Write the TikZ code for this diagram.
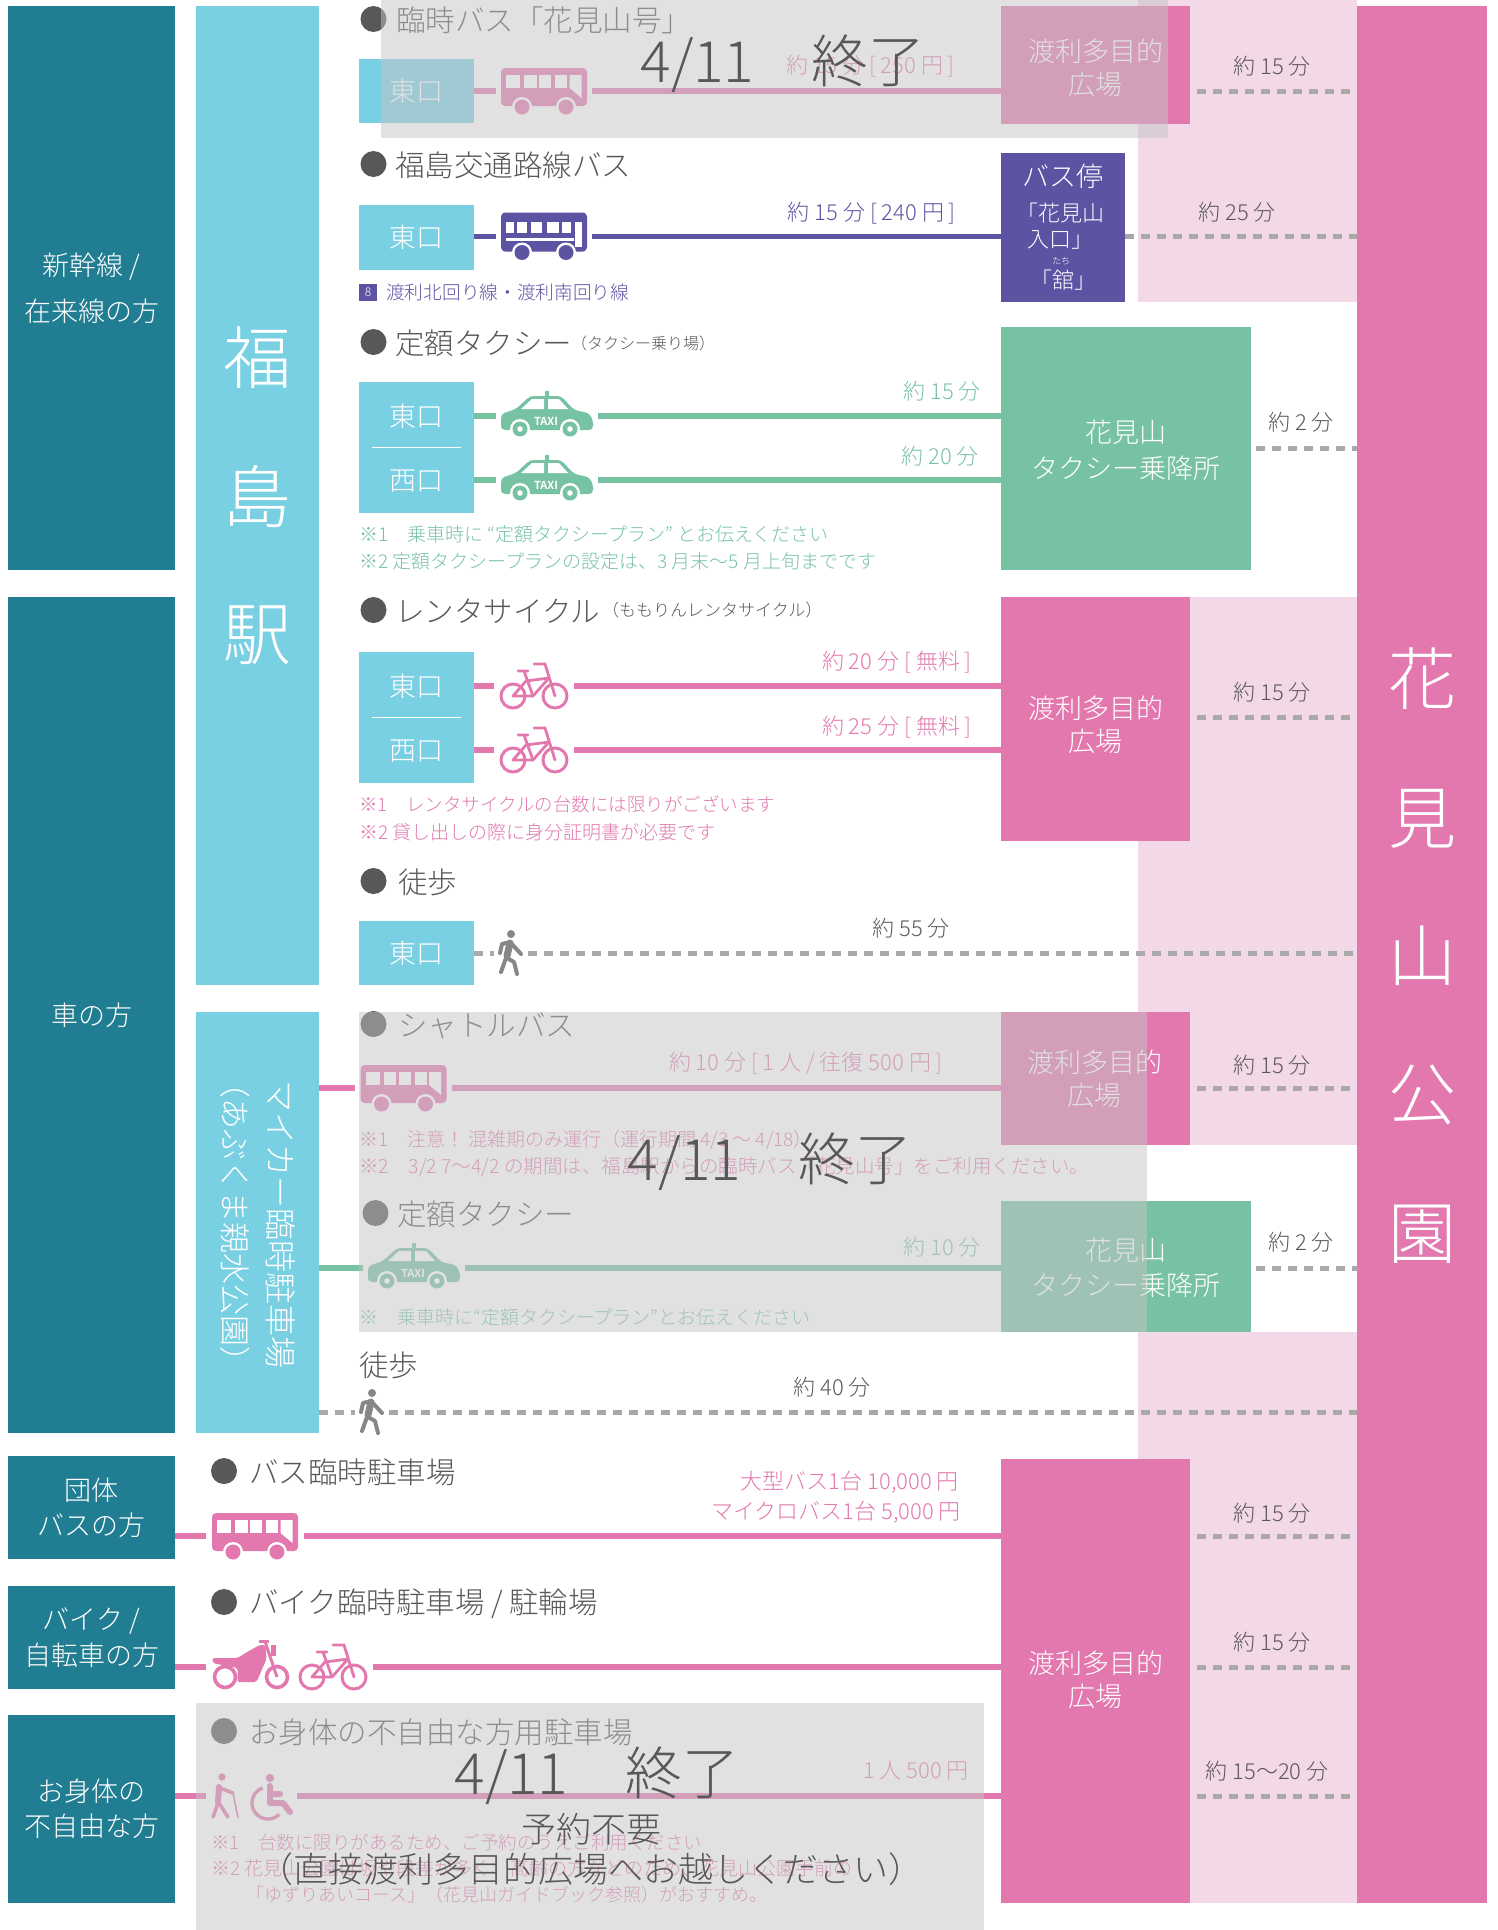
\documentclass[tikz,border=0pt]{standalone}
\usepackage{fontspec}
\setmainfont{Noto Sans CJK JP}[UprightFont=* Light]
\usetikzlibrary{positioning}
\definecolor{tealblock}{HTML}{217D92}
\definecolor{skyblock}{HTML}{7AD0E3}
\definecolor{pinkblock}{HTML}{E278AE}
\definecolor{pinkband}{HTML}{F3D8E8}
\definecolor{greenblock}{HTML}{78C2A4}
\definecolor{purpleblock}{HTML}{5D53A3}
\definecolor{inktext}{HTML}{595757}
\definecolor{dashgray}{HTML}{A9A9AA}
\definecolor{covergray}{HTML}{C4C4C4}
\newcommand{\fsz}[1]{\fontsize{#1}{#1}\selectfont}
\tikzset{
	blockbox/.style={inner sep=0pt,outer sep=0pt,text=white,align=center},
	blocktext/.style={inner sep=0pt,text=white,align=center,font=\fsz{27}},
	bigchar/.style={inner sep=0pt,text=white,font=\fsz{68}},
	tealbox/.style={blockbox,fill=tealblock,font=\fsz{27}},
	skybox/.style={blockbox,fill=skyblock,font=\fsz{27}},
	pinkbox/.style={blockbox,fill=pinkblock},
	greenbox/.style={blockbox,fill=greenblock},
	purplebox/.style={blockbox,fill=purpleblock},
	covered/.style={inner sep=0pt,outer sep=0pt,fill=covergray,fill opacity=.5},
	heading/.style={inner sep=0pt,anchor=west,yshift=-1.5pt,text=inktext,font=\fsz{29.5}},
	subheading/.style={inner sep=0pt,anchor=west,text=inktext,font=\fsz{#1}},
	dotmark/.style={circle,inner sep=0pt,minimum size=26pt,fill=inktext},
	timelabel/.style={inner sep=0pt,yshift=-1pt,text=#1,font=\fsz{22}},
	notelabel/.style={inner sep=0pt,anchor=west,text=#1,font=\fsz{19}},
	bigtext/.style={inner sep=0pt,text=inktext,align=center},
	iconspot/.style={inner sep=0pt,outer sep=0pt,minimum height=1pt},
	routeline/.style={line width=5.5pt,draw=#1},
	walkline/.style={line width=5pt,draw=dashgray,dash pattern=on 9pt off 7pt},
	pics/busicon/.style={code={
		\fill[#1,rounded corners=4pt] (-43,-23) rectangle (43,15);
		\foreach \wx/\wy in {-37.6/-24,-20/-7.4,-4.7/7.4,11/23.3}
			\fill[white] (\wx,-16) rectangle (\wy,-3);
		\fill[white] (25.5,-16) -- (37.6,-16) -- (37.6,7) -- (25.5,-3) -- cycle;
		\foreach \wx in {-22,22} {
			\fill[white] (\wx,16) circle (10pt);
			\fill[#1] (\wx,16) circle (7.5pt);
		}
	}},
	pics/routebusicon/.style={code={
		\fill[#1,rounded corners=4pt] (-43,-24) rectangle (43,15);
		\foreach \wx/\wy in {-38/-30,-27/-17,-13/-2,3/15,18/27}
			\fill[white] (\wx,-15) rectangle (\wy,-4);
		\fill[white] (-38,1.5) rectangle (30,4);
		\fill[white] (31,-15) rectangle (38,10);
		\foreach \wx in {-22,22} {
			\fill[white] (\wx,16) circle (10pt);
			\fill[#1] (\wx,16) circle (7.5pt);
		}
	}},
	pics/taxiicon/.style={code={
		\fill[#1] (-2,-25) rectangle (2,-19);
		\fill[#1,rounded corners=4pt] (-46,14) -- (-46,-2) -- (-31,-7) -- (-17,-20) -- (14,-20) -- (27,-6) -- (42,-3) -- (46,4) -- (46,14) -- cycle;
		\fill[white] (-26,-7) -- (-15,-17) -- (-3,-17) -- (-3,-7) -- cycle;
		\fill[white] (1,-17) -- (12,-17) -- (21,-7) -- (1,-7) -- cycle;
		\foreach \wx in {-27,23} {
			\fill[white] (\wx,13) circle (10pt);
			\fill[#1] (\wx,13) circle (7.5pt);
			\fill[white] (\wx,13) circle (2.8pt);
		}
		\node[inner sep=0pt,text=white,font=\fsz{11}\bfseries] at (-1,5) {TAXI};
	}},
	pics/bikeicon/.style={code={
		\draw[#1,line width=3pt] (-21,10) circle (12pt) (21,10) circle (12pt);
		\draw[#1,line width=2.8pt,line join=round] (-21,10) -- (-1,10) -- (15,-8) -- (-8,-5) -- cycle;
		\draw[#1,line width=2.8pt,line cap=round] (-10,-15) -- (-1,10) (0,-22) -- (11,-22) -- (21,10) (-16,-15) -- (-6,-15);
	}},
	pics/motoicon/.style={code={
		\draw[#1,line width=3.6pt] (-26.5,10) circle (10.5pt) (25.5,10) circle (10.5pt);
		\fill[#1,rounded corners=2pt] (-39,-9) -- (-14,-9) -- (-6,-14) -- (8,-22) -- (14,-22) -- (15,-8) -- (5,15) -- (-14,15) -- (-14,1) -- (-39,-4) -- cycle;
		\fill[#1] (7,-27) rectangle (17,-24);
		\fill[#1] (19,-22) rectangle (24,-11);
		\draw[#1,line width=3pt] (14,-24) -- (25.5,10);
	}},
	pics/walkicon/.style={code={
		\fill[#1] (0,-19) circle (4pt);
		\draw[#1,line width=7pt,line cap=round] (-1,-10) -- (-4,3);
		\draw[#1,line width=4pt,line cap=round,line join=round] (-11,0) -- (-9,-9) -- (-1,-11) -- (10,1) (-5,5) -- (-10,19) (-4,5) -- (3,9) -- (6,21);
	}},
	pics/caneicon/.style={code={
		\fill[#1] (-2,-19) circle (3.7pt);
		\draw[#1,line width=6pt,line cap=round] (-5,-9) -- (-6,6);
		\draw[#1,line width=3.6pt,line cap=round] (-6,7) -- (-11,21) (-5,7) -- (4,21) (-4,-8) -- (9,-3);
		\draw[#1,line width=1.6pt] (9,-3) -- (14,22);
	}},
	pics/chairicon/.style={code={
		\fill[#1] (-2,-18) circle (4.2pt);
		\draw[#1,line width=6pt,line cap=round,line join=round] (-2,-10) -- (-2,7) -- (11,7) -- (18,16) (-2,-2) -- (8,-2);
		\draw[#1,line width=3.4pt] (-9.5,-8) arc[start angle=110,end angle=315,radius=16pt];
	}}
}
\begin{document}
\begin{tikzpicture}[x=1pt,y=-1pt]
	\useasboundingbox (0,0) rectangle (1497,1930);
	% bands behind the destination column
	\fill[pinkband] (1138,0) rectangle (1357,302);
	\fill[pinkband] (1138,597) rectangle (1357,1145);
	\fill[pinkband] (1138,1332) rectangle (1357,1903);
	% visitor groups
	\node[tealbox,minimum width=167pt,minimum height=564pt] (train) at (91.5,288) {新幹線 /\\[18pt]在来線の方};
	\node[tealbox,minimum width=167pt,minimum height=836pt] (car) at (91.5,1015) {車の方};
	\node[tealbox,minimum width=167pt,minimum height=103pt] (coach) at (91.5,1507.5) {団体\\[8pt]バスの方};
	\node[tealbox,minimum width=167pt,minimum height=103pt] (cycle) at (91.5,1637.5) {バイク /\\[8pt]自転車の方};
	\node[tealbox,minimum width=167pt,minimum height=188pt] (care) at (91.5,1809) {お身体の\\[8pt]不自由な方};
	% stations and parks
	\node[skybox,minimum width=123pt,minimum height=979pt] (station) at (257.5,495.5) {};
	\node[bigchar] (fuku) at (257.5,358) {福};
	\node[bigchar] (shima) at (257.5,497) {島};
	\node[bigchar] (eki) at (257.5,635) {駅};
	\node[skybox,minimum width=123pt,minimum height=421pt] (parking) at (257.5,1222.5) {};
	\node[text=white,font=\fsz{32},inner sep=0pt,rotate=-90] (parkingname) at (281,1224) {マイカー臨時駐車場};
	\node[text=white,font=\fsz{31},inner sep=0pt,rotate=-90] (parkingsub) at (235,1222) {（あぶくま親水公園）};
	% exits
	\node[skybox,minimum width=115pt,minimum height=64pt] (eastA) at (416.5,91) {東口};
	\node[skybox,minimum width=115pt,minimum height=65pt] (eastB) at (416.5,237) {東口};
	\node[skybox,minimum width=115pt,minimum height=131pt] (taxigate) at (416.5,447.5) {};
	\node[blocktext] (eastC) at (416.5,416) {東口};
	\node[blocktext] (westC) at (416.5,481) {西口};
	\draw[white,line width=.8pt] (372,447.5) -- (461,447.5);
	\node[skybox,minimum width=115pt,minimum height=131pt] (bikegate) at (416.5,717.5) {};
	\node[blocktext] (eastD) at (416.5,686) {東口};
	\node[blocktext] (westD) at (416.5,751) {西口};
	\draw[white,line width=.8pt] (372,717.5) -- (461,717.5);
	\node[skybox,minimum width=115pt,minimum height=64pt] (eastE) at (416.5,953) {東口};
	% destinations
	\node[pinkbox,minimum width=189pt,minimum height=118pt] (plazaA) at (1095.5,65) {};
	\node[blocktext] (plazaAname) at (1095.5,68) {渡利多目的\\[6pt]広場};
	\node[purplebox,minimum width=124pt,minimum height=149pt] (stop) at (1063,227.5) {};
	\node[text=white,font=\fsz{27},inner sep=0pt] (stopname) at (1063,176) {バス停};
	\node[text=white,font=\fsz{22},inner sep=0pt,align=center] (stopA) at (1060,226) {「花見山\\[4pt]入口」};
	\node[text=white,font=\fsz{9},inner sep=0pt] (stopruby) at (1061,261) {たち};
	\node[text=white,font=\fsz{22},inner sep=0pt] (stopB) at (1063,280) {「舘」};
	\node[greenbox,minimum width=250pt,minimum height=243pt] (taxistand) at (1126,448.5) {};
	\node[blocktext] (taxistandname) at (1126,450) {花見山\\[9pt]タクシー乗降所};
	\node[pinkbox,minimum width=189pt,minimum height=244pt] (plazaB) at (1095.5,719) {};
	\node[blocktext] (plazaBname) at (1095.5,725) {渡利多目的\\[6pt]広場};
	\node[pinkbox,minimum width=189pt,minimum height=133pt] (plazaC) at (1095.5,1078.5) {};
	\node[blocktext] (plazaCname) at (1094.5,1078.5) {渡利多目的\\[6pt]広場};
	\node[greenbox,minimum width=250pt,minimum height=131pt] (taxistandB) at (1126,1266.5) {};
	\node[blocktext] (taxistandBname) at (1126,1268) {花見山\\[8pt]タクシー乗降所};
	\node[pinkbox,minimum width=189pt,minimum height=444pt] (plazaD) at (1095.5,1681) {};
	\node[blocktext] (plazaDname) at (1095.5,1680) {渡利多目的\\[6pt]広場};
	% icon places on the lines
	\node[iconspot,minimum width=96pt] (busA) at (544,91) {};
	\node[iconspot,minimum width=96pt] (busB) at (544,236.5) {};
	\node[iconspot,minimum width=102pt] (taxiA) at (547,416) {};
	\node[iconspot,minimum width=102pt] (taxiB) at (547,480) {};
	\node[iconspot,minimum width=80pt] (bikeA) at (534,686) {};
	\node[iconspot,minimum width=80pt] (bikeB) at (534,750) {};
	\node[iconspot,minimum width=34pt] (walkA) at (511,953) {};
	\node[iconspot,minimum width=97pt] (shuttle) at (403.5,1088) {};
	\node[iconspot,minimum width=102pt] (taxiC) at (414,1268) {};
	\node[iconspot,minimum width=34pt] (walkB) at (372,1412) {};
	\node[iconspot,minimum width=98pt] (busC) at (255,1536) {};
	\node[iconspot,minimum width=91pt] (motoA) at (251.5,1667) {};
	\node[iconspot,minimum width=80pt] (bikeC) at (333,1667) {};
	\node[iconspot,minimum width=36pt] (caneA) at (224,1796) {};
	\node[iconspot,minimum width=50pt] (chairA) at (272,1796) {};
	% routes
	\draw[routeline=pinkblock] (eastA.east) -- (busA.west) (busA.east) -- (plazaA.west |- busA.east);
	\draw[routeline=purpleblock] (eastB.east |- busB) -- (busB.west) (busB.east) -- (stop.west |- busB.east);
	\draw[routeline=greenblock] (taxigate.east |- taxiA) -- (taxiA.west) (taxiA.east) -- (taxistand.west |- taxiA.east);
	\draw[routeline=greenblock] (taxigate.east |- taxiB) -- (taxiB.west) (taxiB.east) -- (taxistand.west |- taxiB.east);
	\draw[routeline=pinkblock] (bikegate.east |- bikeA) -- (bikeA.west) (bikeA.east) -- (plazaB.west |- bikeA.east);
	\draw[routeline=pinkblock] (bikegate.east |- bikeB) -- (bikeB.west) (bikeB.east) -- (plazaB.west |- bikeB.east);
	\draw[routeline=pinkblock] (parking.east |- shuttle) -- (shuttle.west) (shuttle.east) -- (plazaC.west |- shuttle.east);
	\draw[routeline=greenblock] (parking.east |- taxiC) -- (taxiC.west) (taxiC.east) -- (taxistandB.west |- taxiC.east);
	\draw[routeline=pinkblock] (coach.east |- busC) -- (busC.west) (busC.east) -- (plazaD.west |- busC.east);
	\draw[routeline=pinkblock] (cycle.east |- motoA) -- (motoA.west) (bikeC.east) -- (plazaD.west |- bikeC.east);
	\draw[routeline=pinkblock] (care.east |- caneA) -- (caneA.west) (chairA.east) -- (plazaD.west |- chairA.east);
	% walking parts, ending under the park column
	\coordinate (parkedge) at (1367,0);
	\draw[walkline] (eastE.east |- walkA) -- (walkA.west);
	\draw[walkline] (walkA.east) -- (parkedge |- walkA.east);
	\draw[walkline] (parking.east |- walkB) -- (walkB.west);
	\draw[walkline] (walkB.east) -- (parkedge |- walkB.east);
	\draw[walkline] (plazaA.east |- busA) ++(7,0) -- (parkedge |- busA);
	\draw[walkline] (stop.east |- busB) -- (parkedge |- busB);
	\draw[walkline] (taxistand.east) ++(5,0) -- (parkedge |- taxistand.east);
	\draw[walkline] (plazaB.east |- bikegate) ++(7,0) -- (parkedge |- bikegate);
	\draw[walkline] (plazaC.east |- shuttle) ++(7,0) -- (parkedge |- shuttle);
	\draw[walkline] (taxistandB.east |- taxiC) ++(5,0) -- (parkedge |- taxiC);
	\draw[walkline] (plazaD.east |- busC) ++(7,0) -- (parkedge |- busC);
	\draw[walkline] (plazaD.east |- motoA) ++(7,0) -- (parkedge |- motoA);
	\draw[walkline] (plazaD.east |- caneA) ++(7,0) -- (parkedge |- caneA);
	% park column
	\node[pinkbox,minimum width=130pt,minimum height=1897pt] (park) at (1422,954.5) {};
	\node[bigchar] (hana) at (1422,679) {花};
	\node[bigchar] (mi) at (1422,819) {見};
	\node[bigchar] (yama) at (1422,956) {山};
	\node[bigchar] (ko) at (1422,1095) {公};
	\node[bigchar] (en) at (1422,1234) {園};
	% icons
	\pic at (busA) {busicon=pinkblock};
	\pic at (busB) {routebusicon=purpleblock};
	\pic at (taxiA) {taxiicon=greenblock};
	\pic at (taxiB) {taxiicon=greenblock};
	\pic at (bikeA) {bikeicon=pinkblock};
	\pic at (bikeB) {bikeicon=pinkblock};
	\pic at (walkA) {walkicon=dashgray!80!black};
	\pic at (shuttle) {busicon=pinkblock};
	\pic at (taxiC) {taxiicon=greenblock};
	\pic at (walkB) {walkicon=dashgray!80!black};
	\pic at (busC) {busicon=pinkblock};
	\pic at (motoA) {motoicon=pinkblock};
	\pic at (bikeC) {bikeicon=pinkblock};
	\pic at (caneA) {caneicon=pinkblock};
	\pic at (chairA) {chairicon=pinkblock};
	% headings
	\node[dotmark] (dotA) at (373.5,19) {};
	\node[heading] (headA) at (396,19) {臨時バス「花見山号」};
	\node[dotmark] (dotB) at (373.5,164) {};
	\node[heading] (headB) at (395,164) {福島交通路線バス};
	\node[dotmark] (dotC) at (373.5,342) {};
	\node[heading] (headC) at (395,342) {定額タクシー};
	\node[subheading=16] (subC) at (571,343) {（タクシー乗り場）};
	\node[dotmark] (dotD) at (373.5,610) {};
	\node[heading] (headD) at (395,610) {レンタサイクル};
	\node[subheading=17] (subD) at (602,610) {（ももりんレンタサイクル）};
	\node[dotmark] (dotE) at (373.5,881) {};
	\node[heading] (headE) at (398,881) {徒歩};
	\node[dotmark] (dotF) at (373.5,1024) {};
	\node[heading] (headF) at (398,1024) {シャトルバス};
	\node[dotmark] (dotG) at (375.5,1213) {};
	\node[heading] (headG) at (397,1213) {定額タクシー};
	\node[heading] (headH) at (359,1364) {徒歩};
	\node[dotmark] (dotI) at (224,1471) {};
	\node[heading] (headI) at (249,1471) {バス臨時駐車場};
	\node[dotmark] (dotJ) at (224,1602) {};
	\node[heading] (headJ) at (249,1602) {バイク臨時駐車場 / 駐輪場};
	\node[dotmark] (dotK) at (224,1731) {};
	\node[heading] (headK) at (249,1731) {お身体の不自由な方用駐車場};
	% times on the lines
	\node[timelabel=pinkblock,anchor=east] (timeA) at (955,65) {約 15 分 [ 250 円 ]};
	\node[timelabel=purpleblock,anchor=east] (timeB) at (956,212) {約 15 分 [ 240 円 ]};
	\node[timelabel=greenblock,anchor=east] (timeC) at (981,390) {約 15 分};
	\node[timelabel=greenblock,anchor=east] (timeD) at (979,455) {約 20 分};
	\node[timelabel=pinkblock,anchor=east] (timeE) at (972,661) {約 20 分 [ 無料 ]};
	\node[timelabel=pinkblock,anchor=east] (timeF) at (972,726) {約 25 分 [ 無料 ]};
	\node[timelabel=inktext] (timeG) at (911,927) {約 55 分};
	\node[timelabel=pinkblock,anchor=east] (timeH) at (943,1062) {約 10 分 [ 1 人 / 往復 500 円 ]};
	\node[timelabel=greenblock,anchor=east] (timeI) at (981,1246) {約 10 分};
	\node[timelabel=inktext] (timeJ) at (832,1386) {約 40 分};
	\node[timelabel=pinkblock,anchor=east] (feeA) at (959,1481) {大型バス1台 10,000 円};
	\node[timelabel=pinkblock,anchor=east] (feeB) at (961,1511) {マイクロバス1台 5,000 円};
	\node[timelabel=pinkblock,anchor=east] (feeC) at (969,1770) {1 人 500 円};
	% walking times to the park
	\node[timelabel=inktext] (walktimeA) at (1272,65) {約 15 分};
	\node[timelabel=inktext] (walktimeB) at (1237,211) {約 25 分};
	\node[timelabel=inktext] (walktimeC) at (1301,421) {約 2 分};
	\node[timelabel=inktext] (walktimeD) at (1272,691) {約 15 分};
	\node[timelabel=inktext] (walktimeE) at (1272,1064) {約 15 分};
	\node[timelabel=inktext] (walktimeF) at (1301,1241) {約 2 分};
	\node[timelabel=inktext] (walktimeG) at (1272,1512) {約 15 分};
	\node[timelabel=inktext] (walktimeH) at (1272,1641) {約 15 分};
	\node[timelabel=inktext] (walktimeI) at (1267,1770) {約 15〜20 分};
	% notes
	\node[fill=purpleblock,text=white,font=\fsz{12},minimum width=18pt,minimum height=17pt,inner sep=0pt] (routebadge) at (368,292.5) {8};
	\node[notelabel=purpleblock,font=\fsz{18.7}] (routenote) at (386,292) {渡利北回り線・渡利南回り線};
	\node[notelabel=greenblock] (noteA) at (359,534) {※1　乗車時に “定額タクシープラン” とお伝えください};
	\node[notelabel=greenblock] (noteB) at (359,561) {※2 定額タクシープランの設定は、3 月末～5 月上旬までです};
	\node[notelabel=pinkblock,font=\fsz{18.5}] (noteC) at (359,804) {※1　レンタサイクルの台数には限りがございます};
	\node[notelabel=pinkblock] (noteD) at (359,832) {※2 貸し出しの際に身分証明書が必要です};
	\node[notelabel=pinkblock] (noteE) at (359,1140) {※1　注意！ 混雑期のみ運行（運行期間 4/3 ～ 4/18）};
	\node[notelabel=pinkblock,font=\fsz{19.5}] (noteF) at (359,1167) {※2　3/2 7～4/2 の期間は、福島駅からの臨時バス「花見山号」をご利用ください。};
	\node[notelabel=greenblock] (noteG) at (359,1317) {※　乗車時に“定額タクシープラン”とお伝えください};
	\node[notelabel=pinkblock,font=\fsz{18.5}] (noteH) at (211,1842) {※1　台数に限りがあるため、ご予約のうえご利用ください};
	\node[notelabel=pinkblock] (noteI) at (211,1868) {※2 花見山公園は坂や段差が多く、高齢の方などのため、花見山公園手前の};
	\node[notelabel=pinkblock,font=\fsz{18}] (noteJ) at (246,1895) {「ゆずりあいコース」（花見山ガイドブック参照）がおすすめ。};
	% finished services
	\node[covered,minimum width=787pt,minimum height=138pt] (endedA) at (774.5,69) {};
	\node[covered,minimum width=788pt,minimum height=320pt] (endedB) at (753,1172) {};
	\node[covered,minimum width=788pt,minimum height=227pt] (endedC) at (590,1816.5) {};
	\node[bigtext,font=\fsz{57}] (endA) at (783,64) {4/11　終了};
	\node[bigtext,font=\fsz{57}] (endB) at (770,1162) {4/11　終了};
	\node[bigtext,font=\fsz{57}] (endC) at (597,1776) {4/11　終了};
	\node[bigtext,font=\fsz{35}] (endD) at (591,1829) {予約不要};
	\node[bigtext,font=\fsz{35}] (endE) at (591,1869) {（直接渡利多目的広場へお越しください）};
\end{tikzpicture}
\end{document}
